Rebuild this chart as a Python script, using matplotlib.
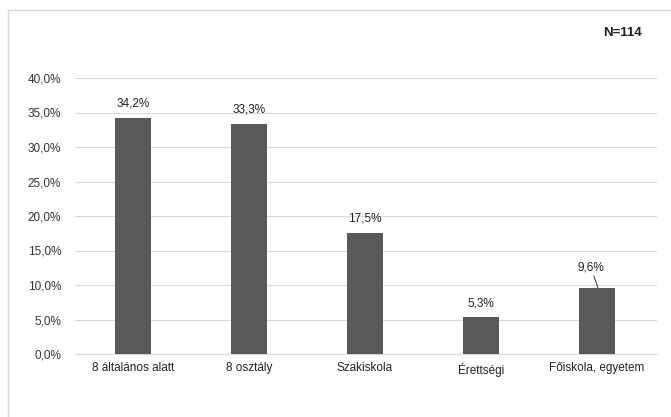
import matplotlib
matplotlib.use("Agg")
import matplotlib.pyplot as plt
from matplotlib.patches import Rectangle

categories = ["8 általános alatt", "8 osztály", "Szakiskola", "Érettségi", "Főiskola, egyetem"]
values = [34.2, 33.3, 17.5, 5.3, 9.6]
yticks = [0, 5, 10, 15, 20, 25, 30, 35, 40]

plt.rcParams["font.family"] = ["Liberation Sans Narrow", "Liberation Sans", "DejaVu Sans"]

fig = plt.figure(figsize=(6.71, 4.17), dpi=100)
fig.patches.append(Rectangle((8 / 671, -0.05), 1.0, 1 - 10 / 417 + 0.05, transform=fig.transFigure,
                             fill=False, edgecolor="#d9d9d9", linewidth=1.0))

ax = fig.add_axes([75 / 671, 1 - 354 / 417, 582 / 671, 276 / 417])
x = range(len(categories))
ax.bar(x, values, width=0.31, color="#595959", zorder=3)

ax.set_ylim(0, 40)
ax.set_xlim(-0.5, len(categories) - 0.5 + 0.02)
ax.set_yticks(yticks)
ax.set_yticklabels([f"{v:.1f}%".replace(".", ",") for v in yticks], fontsize=8.5, color="#333333")
ax.set_xticks(list(x))
ax.set_xticklabels(categories, fontsize=8.5, color="#222222")
ax.tick_params(length=0, pad=6)
ax.tick_params(axis="y", pad=10)
ax.grid(axis="y", color="#d9d9d9", linewidth=0.8, zorder=0)
for s in ["top", "right", "left"]:
    ax.spines[s].set_visible(False)
ax.spines["bottom"].set_color("#d9d9d9")

for i, v in enumerate(values):
    lab = f"{v:.1f}%".replace(".", ",")
    if i == 4:
        ax.annotate(lab, xy=(i + 0.01, v), xytext=(i - 0.05, v + 3.0), ha="center", va="center",
                    fontsize=8.5, color="#222222",
                    arrowprops=dict(arrowstyle="-", color="#333333", lw=0.7, shrinkA=0, shrinkB=0))
    else:
        ax.text(i, v + 1.2, lab, ha="center", va="bottom", fontsize=8.5, color="#222222")

fig.text(642 / 671, 1 - 33 / 417, "N=114", ha="right", va="center", fontsize=9.5,
         fontweight="bold", color="#222222")

fig.savefig("out.png", dpi=100)
